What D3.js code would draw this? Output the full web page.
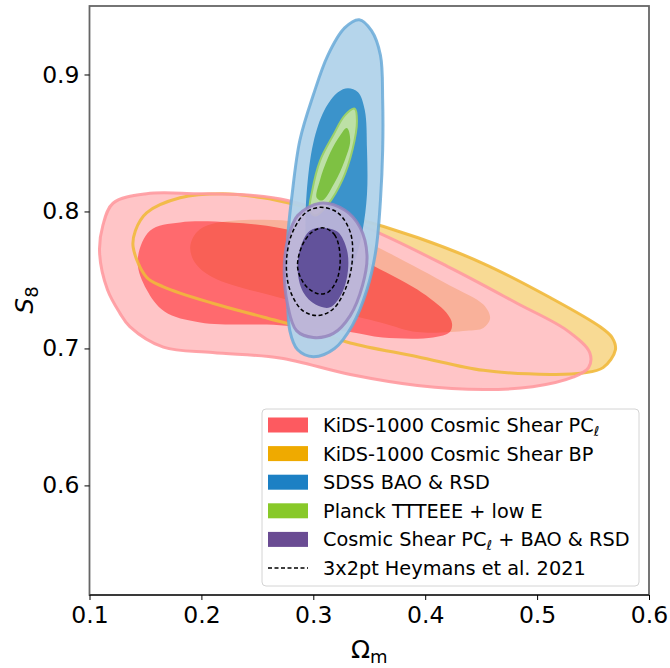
<!DOCTYPE html>
<html><head><meta charset="utf-8">
<script src="https://cdn.jsdelivr.net/npm/d3@7"></script>
<style>body{margin:0;background:#fff} text{font-family:"DejaVu Sans",sans-serif}</style>
</head><body><svg id="c" width="670" height="668"></svg>
<script>
// ---- data (Omega_m, S8) ----
const xTicks = [0.1, 0.2, 0.3, 0.4, 0.5, 0.6];
const yTicks = [0.6, 0.7, 0.8, 0.9];

const kidsPCl95 = [[0.109,0.770],[0.116,0.743],[0.127,0.726],[0.136,0.716],[0.166,0.701],[0.210,0.697],[0.270,0.693],[0.333,0.681],[0.393,0.673],[0.452,0.670],[0.496,0.672],[0.532,0.679],[0.546,0.686],[0.547,0.697],[0.527,0.713],[0.482,0.733],[0.422,0.759],[0.348,0.788],[0.277,0.808],[0.241,0.812],[0.196,0.813],[0.151,0.813],[0.121,0.806],[0.112,0.790]];
const kidsPCl68 = [[0.143,0.764],[0.151,0.743],[0.167,0.727],[0.199,0.719],[0.270,0.717],[0.333,0.712],[0.362,0.708],[0.407,0.708],[0.422,0.712],[0.424,0.718],[0.419,0.726],[0.393,0.743],[0.348,0.763],[0.315,0.779],[0.270,0.788],[0.226,0.792],[0.181,0.792],[0.154,0.786]];
const kidsBP95 = [[0.139,0.774],[0.151,0.752],[0.166,0.745],[0.210,0.733],[0.255,0.723],[0.300,0.713],[0.333,0.704],[0.393,0.694],[0.452,0.684],[0.512,0.681],[0.541,0.682],[0.559,0.686],[0.570,0.699],[0.567,0.708],[0.556,0.716],[0.512,0.737],[0.452,0.762],[0.393,0.781],[0.333,0.796],[0.300,0.802],[0.255,0.810],[0.219,0.813],[0.181,0.810],[0.151,0.799],[0.141,0.786]];
const kidsBP68 = [[0.190,0.774],[0.196,0.785],[0.210,0.791],[0.255,0.794],[0.288,0.792],[0.333,0.783],[0.362,0.772],[0.422,0.746],[0.452,0.732],[0.458,0.722],[0.452,0.715],[0.437,0.713],[0.393,0.712],[0.360,0.719],[0.270,0.737],[0.210,0.752],[0.194,0.763]];
const sdss95 = [[0.341,0.940],[0.352,0.932],[0.360,0.914],[0.362,0.881],[0.362,0.845],[0.360,0.808],[0.356,0.772],[0.348,0.743],[0.335,0.717],[0.319,0.700],[0.300,0.694],[0.286,0.699],[0.279,0.713],[0.277,0.743],[0.277,0.779],[0.281,0.812],[0.288,0.852],[0.300,0.885],[0.313,0.914],[0.328,0.934]];
const sdss68 = [[0.331,0.890],[0.340,0.887],[0.346,0.874],[0.348,0.845],[0.348,0.813],[0.344,0.786],[0.337,0.764],[0.326,0.746],[0.313,0.739],[0.302,0.743],[0.294,0.761],[0.293,0.786],[0.294,0.813],[0.300,0.850],[0.310,0.874],[0.322,0.887]];
const planck95 = [[0.337,0.875],[0.339,0.866],[0.335,0.845],[0.326,0.823],[0.313,0.805],[0.302,0.797],[0.297,0.801],[0.299,0.815],[0.306,0.837],[0.318,0.856],[0.328,0.870]];
const planck68 = [[0.330,0.861],[0.333,0.852],[0.328,0.837],[0.319,0.821],[0.308,0.808],[0.303,0.810],[0.306,0.823],[0.313,0.839],[0.322,0.853]];
const comb95 = [[0.306,0.806],[0.328,0.801],[0.342,0.788],[0.348,0.768],[0.344,0.746],[0.333,0.724],[0.318,0.711],[0.300,0.708],[0.285,0.713],[0.277,0.732],[0.274,0.757],[0.277,0.779],[0.286,0.797]];
const comb68 = [[0.309,0.788],[0.322,0.785],[0.330,0.772],[0.331,0.757],[0.326,0.741],[0.315,0.730],[0.302,0.732],[0.291,0.741],[0.286,0.757],[0.289,0.775],[0.297,0.786]];
const hey95 = [[0.306,0.803],[0.322,0.799],[0.333,0.785],[0.335,0.766],[0.330,0.746],[0.318,0.729],[0.304,0.724],[0.290,0.728],[0.279,0.743],[0.276,0.763],[0.281,0.784],[0.293,0.799]];
const hey68 = [[0.309,0.788],[0.319,0.783],[0.324,0.767],[0.321,0.750],[0.313,0.741],[0.304,0.740],[0.293,0.746],[0.286,0.759],[0.290,0.775],[0.299,0.785]];

const legendLabels = ["KiDS-1000 Cosmic Shear PC", "KiDS-1000 Cosmic Shear BP", "SDSS BAO & RSD", "Planck TTTEEE + low E", "Cosmic Shear PC", "3x2pt Heymans et al. 2021"];
const legendColors = ["#fd5a60", "#efaa00", "#1c80c4", "#88c929", "#6a4c93", null];
const legendSub = ["\u2113", "", "", "", "\u2113", ""];
const legendTail = ["", "", "", "", " + BAO & RSD", ""];

// ---- layout ----
const svg = d3.select("#c");
const L = 89.5, R = 649, T = 6, B = 595;
const x = d3.scaleLinear().domain([0.1, 0.6]).range([L, R]);
const y = d3.scaleLinear().domain([0.52, 0.95]).range([B, T]);
const line = d3.line().x(d => x(d[0])).y(d => y(d[1])).curve(d3.curveCatmullRomClosed.alpha(0.5));

svg.append("defs").append("clipPath").attr("id","clip").append("rect")
  .attr("x",L).attr("y",T).attr("width",R-L).attr("height",B-T);
const g = svg.append("g").attr("clip-path","url(#clip)");

function shape(data, fill, opts={}) {
  const p = g.append("path").attr("d", line(data))
    .attr("fill", fill || "none")
    .attr("fill-opacity", opts.fo ?? 1);
  if (opts.stroke) p.attr("stroke", opts.stroke).attr("stroke-width", opts.sw ?? 3).attr("stroke-opacity", opts.so ?? 1);
  if (opts.dash) p.attr("stroke-dasharray", opts.dash);
  if (opts.blend) p.style("mix-blend-mode", opts.blend);
  return p;
}

// KiDS fills
shape(kidsBP95, "#f8da94");
shape(kidsPCl95, "#ffc5c7");
shape(kidsPCl68, "#ff6a6e");
shape(kidsBP68, "#f9e6c6", {blend:"multiply"});
// KiDS outlines
shape(kidsBP95, null, {stroke:"#f1b93c", sw:3, so:0.9});
shape(kidsPCl95, null, {stroke:"#ff9aa0", sw:3, so:0.9});
// SDSS
shape(sdss95, "#b1d3ea", {fo:0.95});
shape(sdss95, null, {stroke:"#6aaad8", sw:3, so:0.85});
shape(sdss68, "#3b93cb");
// Planck
shape(planck95, "#bde0a6", {stroke:"#9bd06a", sw:2});
shape(planck68, "#7ec143");
// Combined
shape(comb95, "#bdb4d7", {fo:0.93});
shape(comb95, null, {stroke:"#9585bd", sw:3, so:0.85});
shape(comb68, "#62529b");
// Heymans
shape(hey95, null, {stroke:"#000", sw:1.5, dash:"4,2.5"});
shape(hey68, null, {stroke:"#000", sw:1.5, dash:"4,2.5"});

// ---- frame & axes ----
svg.append("rect").attr("x",L).attr("y",T).attr("width",R-L).attr("height",B-T)
  .attr("fill","none").attr("stroke","#666").attr("stroke-width",1.8);
svg.append("line").attr("x1",L).attr("x2",R).attr("y1",B).attr("y2",B).attr("stroke","#000").attr("stroke-width",1.2);

const xa = svg.append("g").attr("transform",`translate(0,${B})`)
  .call(d3.axisBottom(x).tickValues(xTicks).tickFormat(d3.format(".1f")).tickSize(5).tickPadding(4));
const ya = svg.append("g").attr("transform",`translate(${L},0)`)
  .call(d3.axisLeft(y).tickValues(yTicks).tickFormat(d3.format(".1f")).tickSize(5).tickPadding(5));
[xa, ya].forEach(a => {
  a.select(".domain").remove();
  a.selectAll("text").attr("font-size", 23.5).attr("fill","#000").attr("font-family","DejaVu Sans");
  a.selectAll("line").attr("stroke","#000").attr("stroke-width",1);
});
xa.selectAll("text").attr("dy","0.8em");

// axis labels
const xl = svg.append("text").attr("x", (L+R)/2).attr("y", 658).attr("text-anchor","middle").attr("font-size",25);
xl.append("tspan").text("\u03A9");
xl.append("tspan").text("m").attr("font-size",18).attr("dy",5);
const yl = svg.append("text").attr("transform","translate(33,300) rotate(-90)").attr("text-anchor","middle").attr("font-size",25);
yl.append("tspan").text("S").attr("font-style","italic");
yl.append("tspan").text("8").attr("font-size",18).attr("dy",5);

// ---- legend ----
const lg = svg.append("g");
lg.append("rect").attr("x",262).attr("y",409).attr("width",377).attr("height",177).attr("rx",4)
  .attr("fill","#fff").attr("fill-opacity",0.85).attr("stroke","#d4d4d4").attr("stroke-width",1);
legendLabels.forEach((lab, i) => {
  const cy = 425 + i * 28.6;
  if (legendColors[i]) {
    lg.append("rect").attr("x",268).attr("y",cy-7.5).attr("width",40).attr("height",15).attr("fill",legendColors[i]);
  } else {
    lg.append("line").attr("x1",268).attr("x2",308).attr("y1",cy).attr("y2",cy)
      .attr("stroke","#000").attr("stroke-width",1.5).attr("stroke-dasharray","4,2.5");
  }
  const t = lg.append("text").attr("x",323).attr("y",cy+7).attr("font-size",19.3).attr("fill","#000");
  t.append("tspan").text(lab);
  if (legendSub[i]) t.append("tspan").text(legendSub[i]).attr("font-size",13.5).attr("font-style","italic").attr("dy",4);
  if (legendTail[i]) t.append("tspan").text(legendTail[i]).attr("dy",-4);
});
</script></body></html>
